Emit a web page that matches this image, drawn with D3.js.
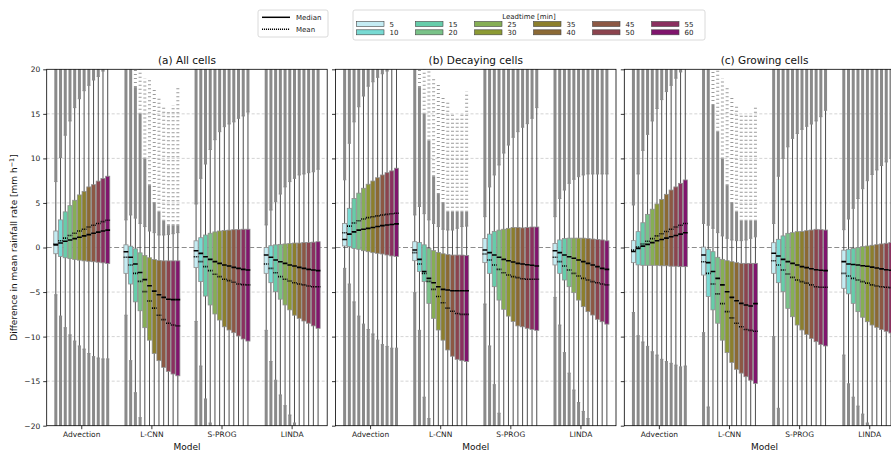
<!DOCTYPE html>
<html>
<head>
<meta charset="utf-8">
<script src="https://cdn.jsdelivr.net/npm/d3@7"></script>
<style>
  body { margin: 0; background: #fff; }
  svg { display: block; font-family: "DejaVu Sans", sans-serif; }
</style>
</head>
<body>
<div id="chart"></div>
<script>
// categories
const models = ["Advection", "L-CNN", "S-PROG", "LINDA"];
const leadtimes = [5, 10, 15, 20, 25, 30, 35, 40, 45, 50, 55, 60];
const leadColors = ["#c4ecf3", "#78dad3", "#66cdaa", "#79c288", "#86af55", "#8c9a33",
                    "#8c7f2c", "#8b6934", "#8c5844", "#8c434e", "#8a305f", "#80146d"];
const panelTitles = ["(a) All cells", "(b) Decaying cells", "(c) Growing cells"];
const yTicks = [20, 15, 10, 5, 0, -5, -10, -15, -20];

// (a) all cells, one row per model
const allQ1 = [
  [-0.7,-1.0,-1.15,-1.25,-1.35,-1.42,-1.5,-1.55,-1.6,-1.65,-1.72,-1.8],
  [-2.9,-4.1,-6.1,-7.1,-9.0,-10.4,-11.9,-12.7,-13.45,-13.9,-14.2,-14.4],
  [-2.26,-3.83,-5.45,-6.45,-7.46,-8.14,-8.9,-9.26,-9.56,-9.93,-10.27,-10.5],
  [-2.9,-3.95,-4.96,-5.8,-6.45,-7.0,-7.6,-7.95,-8.25,-8.5,-8.8,-9.07]];
const allQ3 = [
  [1.85,3.1,4.0,4.7,5.3,5.9,6.3,6.8,7.05,7.45,7.75,8.0],
  [0.3,0.15,-0.15,-0.6,-0.9,-1.15,-1.35,-1.45,-1.5,-1.5,-1.5,-1.5],
  [0.75,1.1,1.4,1.6,1.75,1.85,1.9,1.95,2.0,2.0,2.05,2.05],
  [0.0,0.2,0.3,0.35,0.4,0.45,0.5,0.5,0.55,0.55,0.6,0.65]];
const allMed = [
  [0.3,0.5,0.7,0.85,1.0,1.15,1.3,1.45,1.6,1.72,1.85,1.95],
  [-0.47,-1.1,-1.85,-2.8,-3.6,-4.3,-4.9,-5.3,-5.6,-5.8,-5.85,-5.85],
  [-0.36,-0.66,-1.03,-1.33,-1.59,-1.78,-1.96,-2.08,-2.23,-2.34,-2.45,-2.52],
  [-0.84,-1.1,-1.4,-1.6,-1.78,-1.96,-2.08,-2.23,-2.34,-2.45,-2.52,-2.6]];
const allMean = [
  [0.4,0.75,1.05,1.35,1.6,1.85,2.05,2.3,2.5,2.7,2.9,3.05],
  [-1.1,-1.96,-2.9,-3.8,-4.95,-6.0,-6.8,-7.6,-8.1,-8.5,-8.7,-8.8],
  [-1.03,-1.59,-2.15,-2.6,-3.0,-3.27,-3.57,-3.72,-3.9,-4.1,-4.17,-4.2],
  [-1.85,-2.34,-2.83,-3.27,-3.57,-3.76,-3.95,-4.1,-4.2,-4.32,-4.4,-4.4]];
const allWhiHi = [
  [7.4,10.1,12.6,14.2,15.7,16.7,17.6,18.2,18.8,19.2,19.8,20.5],
  [3.1,3.65,3.3,2.7,2.35,1.85,1.67,1.4,1.4,1.45,1.55,1.67],
  [4.88,7.76,9.37,11.0,12.1,13.0,13.56,13.86,14.1,14.5,14.76,15.2],
  [2.53,4.2,5.14,6.0,6.8,7.4,7.76,8.14,8.25,8.4,8.5,8.78]];
const allWhiLo = [
  [-5.3,-7.7,-9.0,-9.8,-10.5,-11.05,-11.4,-11.9,-12.25,-12.4,-12.5,-12.5],
  [-7.6,-12.7,-16.3,-19.1,-21,-22,-23,-24,-25,-25,-25,-25],
  [-8.3,-13.3,-17.0,-19.7,-21,-22,-23,-24,-25,-25,-25,-25],
  [-9.3,-12.8,-14.9,-16.55,-17.75,-18.8,-19.7,-21,-22,-23,-24,-25]];

// (b) decaying cells
const decQ1 = [
  [0.17,0.1,-0.1,-0.2,-0.36,-0.47,-0.58,-0.65,-0.73,-0.84,-0.95,-1.0],
  [-1.48,-2.7,-3.83,-6.27,-7.95,-9.26,-10.4,-11.5,-12.2,-12.55,-12.7,-12.8],
  [-1.7,-2.9,-4.4,-5.9,-6.94,-7.7,-8.3,-8.8,-8.9,-9.07,-9.2,-9.3],
  [-1.96,-2.9,-3.65,-4.4,-5.07,-5.9,-6.64,-7.2,-7.58,-8.06,-8.33,-8.6]];
const decQ3 = [
  [2.7,4.4,5.5,6.1,6.65,7.1,7.46,7.83,8.14,8.4,8.6,8.9],
  [0.65,0.55,0.3,-0.1,-0.35,-0.55,-0.7,-0.8,-0.85,-0.85,-0.85,-0.9],
  [1.0,1.5,1.8,1.95,2.05,2.15,2.25,2.25,2.2,2.25,2.3,2.3],
  [0.45,0.85,1.0,1.05,1.05,1.05,1.05,1.0,0.95,0.9,0.85,0.75]];
const decMed = [
  [0.9,1.5,1.75,1.95,2.05,2.15,2.25,2.35,2.45,2.52,2.58,2.65],
  [-0.28,-1.33,-2.7,-3.46,-3.95,-4.4,-4.7,-4.77,-4.85,-4.85,-4.85,-4.85],
  [-0.28,-0.58,-0.84,-1.1,-1.33,-1.48,-1.63,-1.78,-1.85,-1.93,-2.0,-2.08],
  [-0.36,-0.58,-0.84,-1.03,-1.2,-1.4,-1.59,-1.78,-1.96,-2.15,-2.34,-2.45]];
const decMean = [
  [1.65,2.4,2.75,3.0,3.2,3.35,3.45,3.55,3.65,3.72,3.78,3.85],
  [-0.58,-1.85,-2.9,-3.8,-4.7,-5.5,-6.2,-6.8,-7.15,-7.4,-7.5,-7.5],
  [-0.73,-1.4,-1.96,-2.45,-2.83,-3.09,-3.27,-3.38,-3.5,-3.57,-3.57,-3.57],
  [-1.1,-1.59,-2.08,-2.52,-2.9,-3.2,-3.46,-3.65,-3.83,-3.95,-4.1,-4.2]];
const decWhiHi = [
  [7.6,11.7,14.1,15.8,17.0,18.1,18.6,19.1,19.5,19.8,20.2,20.5],
  [3.65,4.6,3.8,3.1,2.7,2.35,2.04,1.96,1.96,2.15,2.35,2.4],
  [3.46,6.8,8.14,9.26,10.6,11.5,12.37,13.0,13.5,13.9,14.5,15.7],
  [3.46,5.5,6.45,7.2,7.65,7.95,8.14,8.25,8.25,8.25,8.25,8.25]];
const decWhiLo = [
  [-2.34,-4.1,-6.1,-7.7,-8.6,-9.2,-9.7,-10.4,-10.9,-11.1,-11.3,-11.3],
  [-5.07,-9.3,-16.8,-19.2,-21,-22,-23,-24,-25,-25,-25,-25],
  [-6.34,-11.05,-15.4,-18.6,-21,-22,-23,-24,-25,-25,-25,-25],
  [-5.6,-8.7,-11.8,-14.1,-16.0,-17.4,-18.4,-19.2,-21,-22,-23,-24]];

// (c) growing cells
const groQ1 = [
  [-1.7,-1.95,-2.0,-2.0,-2.0,-2.0,-2.05,-2.05,-2.1,-2.1,-2.15,-2.15],
  [-3.09,-5.5,-7.0,-8.5,-10.4,-11.8,-12.9,-13.67,-14.1,-14.5,-14.9,-15.25],
  [-2.9,-3.95,-4.96,-6.83,-7.77,-8.7,-9.26,-9.75,-10.2,-10.57,-10.9,-11.05],
  [-4.58,-5.2,-6.27,-7.2,-7.83,-8.33,-8.7,-8.96,-9.2,-9.4,-9.6,-9.8]];
const groQ3 = [
  [0.77,1.78,2.78,3.72,4.3,4.88,5.4,5.97,6.45,6.8,7.2,7.58],
  [0.05,-0.2,-0.47,-1.1,-1.33,-1.48,-1.59,-1.7,-1.78,-1.78,-1.78,-1.78],
  [0.54,0.92,1.3,1.59,1.67,1.78,1.8,1.89,1.96,2.04,2.0,1.96],
  [-0.3,-0.2,-0.1,0.0,0.1,0.17,0.25,0.32,0.4,0.47,0.55,0.62]];
const groMed = [
  [-0.45,-0.1,0.15,0.35,0.55,0.75,0.9,1.05,1.2,1.35,1.5,1.65],
  [-0.84,-1.7,-2.7,-3.46,-4.2,-4.96,-5.6,-5.97,-6.27,-6.45,-6.57,-6.3],
  [-0.65,-0.95,-1.33,-1.59,-1.78,-1.96,-2.15,-2.26,-2.38,-2.49,-2.55,-2.6],
  [-1.59,-1.85,-1.9,-1.96,-2.04,-2.1,-2.2,-2.3,-2.4,-2.5,-2.55,-2.6]];
const groMean = [
  [-0.3,0.05,0.4,0.7,1.0,1.3,1.55,1.8,2.05,2.3,2.5,2.7],
  [-1.6,-2.9,-4.1,-5.2,-6.3,-7.2,-7.9,-8.5,-8.9,-9.2,-9.3,-9.4],
  [-1.48,-1.96,-2.52,-2.97,-3.35,-3.65,-3.83,-4.0,-4.2,-4.4,-4.46,-4.46],
  [-2.9,-3.2,-3.46,-3.65,-3.83,-4.0,-4.2,-4.32,-4.4,-4.46,-4.5,-4.6]];
const groWhiHi = [
  [4.77,8.25,10.9,12.7,14.2,15.6,16.6,17.5,18.2,19.0,19.7,20.5],
  [2.7,2.5,2.15,1.67,1.3,1.03,0.84,0.77,0.77,0.84,1.03,1.2],
  [2.7,8.0,10.0,11.3,12.25,12.8,13.26,13.6,13.86,14.2,14.68,15.4],
  [2.0,3.2,4.4,5.5,6.6,7.5,8.2,8.7,9.2,9.6,10.0,10.4]];
const groWhiLo = [
  [-7.3,-9.9,-10.6,-11.1,-11.7,-12.07,-12.55,-12.8,-13.0,-13.2,-13.4,-13.3],
  [-9.56,-17.9,-21,-22,-23,-24,-25,-25,-25,-25,-25,-25],
  [-10.0,-18.05,-21,-22,-23,-24,-25,-25,-25,-25,-25,-25],
  [-12.07,-15.3,-16.8,-17.8,-18.7,-19.7,-21,-22,-23,-24,-25,-25]];

// L-CNN upper outliers: where the dense run ends and where the scattered points end
const allLcnnDense  = [20,20,18,15,10,7,5,4,3,2.5,2.5,2.5];
const allLcnnSparse = [21,21,20,20,19,19,18,17,16,15.5,16,18];
const decLcnnDense  = [20,18,15,12,8,6,5,4,4,4,4,4];
const decLcnnSparse = [21,21,20,20,19,18.5,17,16.5,15,14.5,15,17.5];
const groLcnnDense  = [20,20,16,13,10,7,5,4,3,3,3,3];
const groLcnnSparse = [21,21,20,20,19,18,17,16,15,15,15,16];

const panelStats = [
  {q1: allQ1, q3: allQ3, med: allMed, mean: allMean, hi: allWhiHi, lo: allWhiLo, dense: allLcnnDense, sparse: allLcnnSparse},
  {q1: decQ1, q3: decQ3, med: decMed, mean: decMean, hi: decWhiHi, lo: decWhiLo, dense: decLcnnDense, sparse: decLcnnSparse},
  {q1: groQ1, q3: groQ3, med: groMed, mean: groMean, hi: groWhiHi, lo: groWhiLo, dense: groLcnnDense, sparse: groLcnnSparse}
];

const width = 891, height = 451;
const panelLeft = [46.7, 335.5, 624.3];
const panelW = 280.5;
const plotTop = 69.3, plotBottom = 425.7;

const svg = d3.select("#chart").append("svg")
    .attr("width", width).attr("height", height);
svg.append("rect").attr("width", width).attr("height", height).attr("fill", "#fff");

const y = d3.scaleLinear().domain([-20, 20]).range([plotBottom, plotTop]);
const xModel = d3.scaleBand().domain(models).range([0, panelW]);
const groupW = 56.6;
const xLead = d3.scaleBand().domain(leadtimes).range([0, groupW]);
const bw = xLead.bandwidth();
const fmt = v => (v < 0 ? "\u2212" + Math.abs(v) : "" + v);

panelStats.forEach((st, p) => {
    let g = svg.append("g").attr("transform", "translate(" + panelLeft[p] + ",0)");

    g.append("clipPath").attr("id", "clip" + p)
      .append("rect").attr("x", 0).attr("y", plotTop).attr("width", panelW).attr("height", plotBottom - plotTop);

    // grid
    g.append("g").selectAll("line")
      .data(yTicks.filter(t => t !== 0 && Math.abs(t) < 20))
      .join("line")
        .attr("x1", 0).attr("x2", panelW)
        .attr("y1", d => y(d)).attr("y2", d => y(d))
        .attr("stroke", "#c8c8c8").attr("stroke-width", 0.8)
        .attr("stroke-dasharray", "3,2");
    g.append("line")
        .attr("x1", 0).attr("x2", panelW).attr("y1", y(0)).attr("y2", y(0))
        .attr("stroke", "#8c8c8c").attr("stroke-width", 1)
        .attr("stroke-dasharray", "5,2.5");

    // one record per box
    let boxes = [];
    models.forEach((m, mi) => {
        leadtimes.forEach((lt, li) => {
            boxes.push({
                model: m, mi: mi, lt: lt, li: li,
                cx: xModel(m) + (xModel.bandwidth() - groupW) / 2 + xLead(lt) + bw / 2,
                q1: st.q1[mi][li], q3: st.q3[mi][li], med: st.med[mi][li], mean: st.mean[mi][li],
                hi: st.hi[mi][li], lo: st.lo[mi][li],
                dense: mi === 1 ? st.dense[li] : 21,
                sparse: mi === 1 ? st.sparse[li] : 21
            });
        });
    });

    let body = g.append("g").attr("clip-path", "url(#clip" + p + ")");

    // outliers above the upper whisker
    body.append("g").selectAll("rect")
      .data(boxes.filter(d => d.hi < 20.5))
      .join("rect")
        .attr("x", d => d.cx - 1.5).attr("width", 3)
        .attr("y", d => y(Math.max(d.dense, d.hi)))
        .attr("height", d => Math.max(0, y(d.hi) - y(Math.max(d.dense, d.hi))))
        .attr("fill", "#8a8a8a");
    body.append("g").selectAll("line")
      .data(boxes.filter(d => d.mi === 1 && d.sparse > d.dense))
      .join("line")
        .attr("x1", d => d.cx).attr("x2", d => d.cx)
        .attr("y1", d => y(Math.max(d.dense, d.hi))).attr("y2", d => y(d.sparse))
        .attr("stroke", "#9a9a9a").attr("stroke-width", 3)
        .attr("stroke-dasharray", "1,3");
    // outliers below the lower whisker
    body.append("g").selectAll("rect")
      .data(boxes.filter(d => d.lo > -20.5))
      .join("rect")
        .attr("x", d => d.cx - 1.5).attr("width", 3)
        .attr("y", d => y(d.lo))
        .attr("height", d => y(-21) - y(d.lo))
        .attr("fill", "#8a8a8a");

    // whiskers
    body.append("g").selectAll("line")
      .data(boxes)
      .join("line")
        .attr("x1", d => d.cx).attr("x2", d => d.cx)
        .attr("y1", d => y(d.hi)).attr("y2", d => y(d.lo))
        .attr("stroke", "#3a3a3a").attr("stroke-width", 0.9);
    // caps
    body.append("g").selectAll("path")
      .data(boxes)
      .join("path")
        .attr("d", d => "M" + (d.cx - 1.6) + "," + y(d.hi) + "h3.2M" + (d.cx - 1.6) + "," + y(d.lo) + "h3.2")
        .attr("stroke", "#8a8a8a").attr("stroke-width", 1);

    // boxes
    body.append("g").selectAll("rect")
      .data(boxes)
      .join("rect")
        .attr("x", d => d.cx - bw / 2 + 0.3).attr("width", bw - 0.6)
        .attr("y", d => y(d.q3)).attr("height", d => y(d.q1) - y(d.q3))
        .attr("fill", d => leadColors[d.li])
        .attr("stroke", "#8f8f8f").attr("stroke-width", 0.8);

    // medians and means
    body.append("g").selectAll("line")
      .data(boxes)
      .join("line")
        .attr("x1", d => d.cx - bw / 2).attr("x2", d => d.cx + bw / 2)
        .attr("y1", d => y(d.med)).attr("y2", d => y(d.med))
        .attr("stroke", "#000").attr("stroke-width", 1.6);
    body.append("g").selectAll("line")
      .data(boxes)
      .join("line")
        .attr("x1", d => d.cx - bw / 2).attr("x2", d => d.cx + bw / 2)
        .attr("y1", d => y(d.mean)).attr("y2", d => y(d.mean))
        .attr("stroke", "#000").attr("stroke-width", 1.6)
        .attr("stroke-dasharray", "1.1,0.9");

    // frame
    g.append("rect").attr("x", 0).attr("y", plotTop).attr("width", panelW).attr("height", plotBottom - plotTop)
        .attr("fill", "none").attr("stroke", "#000").attr("stroke-width", 0.8);

    // y ticks
    let yAxis = d3.axisLeft(y).tickValues(yTicks).tickSize(3.5).tickFormat(p === 0 ? fmt : "");
    g.append("g").call(yAxis)
        .call(a => a.select(".domain").remove())
        .call(a => a.selectAll("line").attr("stroke", "#000").attr("stroke-width", 0.8))
        .call(a => a.selectAll("text").attr("font-size", 7.5).attr("fill", "#222")
            .attr("font-family", "DejaVu Sans, sans-serif"));

    // x ticks
    let xAxis = d3.axisBottom(xModel).tickSize(3.5).tickPadding(2.5);
    g.append("g").attr("transform", "translate(0," + plotBottom + ")").call(xAxis)
        .call(a => a.select(".domain").remove())
        .call(a => a.selectAll("line").attr("stroke", "#000").attr("stroke-width", 0.8))
        .call(a => a.selectAll("text").attr("font-size", 7.5).attr("fill", "#222")
            .attr("font-family", "DejaVu Sans, sans-serif"));

    g.append("text").attr("x", panelW / 2).attr("y", 450)
        .attr("text-anchor", "middle").attr("font-size", 9).attr("fill", "#111")
        .text("Model");

    g.append("text").attr("x", panelW / 2).attr("y", 64)
        .attr("text-anchor", "middle").attr("font-size", 10.5).attr("fill", "#111")
        .text(panelTitles[p]);
});

// y label
svg.append("text")
    .attr("transform", "translate(17," + y(0) + ") rotate(-90)")
    .attr("text-anchor", "middle").attr("font-size", 9).attr("fill", "#111")
    .call(t => {
        t.append("tspan").text("Difference in mean rainfall rate [mm h");
        t.append("tspan").attr("dy", -3.5).attr("font-size", 6.5).text("\u22121");
        t.append("tspan").attr("dy", 3.5).text("]");
    });

// legend: median / mean
let lg1 = svg.append("g");
lg1.append("rect").attr("x", 258).attr("y", 10).attr("width", 70).attr("height", 27).attr("rx", 2)
    .attr("fill", "#fff").attr("stroke", "#d0d0d0").attr("stroke-width", 0.8);
lg1.append("line").attr("x1", 262).attr("x2", 290).attr("y1", 17.3).attr("y2", 17.3)
    .attr("stroke", "#000").attr("stroke-width", 1.5);
lg1.append("line").attr("x1", 262).attr("x2", 290).attr("y1", 29.3).attr("y2", 29.3)
    .attr("stroke", "#000").attr("stroke-width", 1.5).attr("stroke-dasharray", "1.1,0.9");
lg1.append("text").attr("x", 296).attr("y", 19.8).attr("font-size", 7).attr("fill", "#222").text("Median");
lg1.append("text").attr("x", 296).attr("y", 31.8).attr("font-size", 7).attr("fill", "#222").text("Mean");

// legend: leadtimes
let lg2 = svg.append("g");
lg2.append("rect").attr("x", 353).attr("y", 10).attr("width", 352).attr("height", 30).attr("rx", 2)
    .attr("fill", "#fff").attr("stroke", "#d0d0d0").attr("stroke-width", 0.8);
lg2.append("text").attr("x", 529).attr("y", 18.5).attr("text-anchor", "middle")
    .attr("font-size", 7).attr("fill", "#222").text("Leadtime [min]");
let items = lg2.selectAll("g.item").data(leadtimes).join("g")
    .attr("transform", (d, i) => "translate(" + (356.5 + Math.floor(i / 2) * 59) + "," + (i % 2 === 0 ? 21.5 : 29.8) + ")");
items.append("rect").attr("width", 27.5).attr("height", 5)
    .attr("fill", (d, i) => leadColors[i]).attr("stroke", "#444").attr("stroke-width", 0.6);
items.append("text").attr("x", 33).attr("y", 5).attr("font-size", 7).attr("fill", "#222").text(d => d);
</script>
</body>
</html>
